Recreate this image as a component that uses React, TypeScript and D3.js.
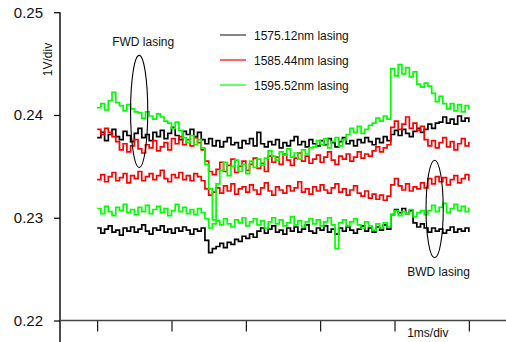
import React, { useEffect, useRef } from 'react';
import * as d3 from 'd3';

// scope readings, one sample every 0.05 ms (5 divisions)
const sampleStep = 0.05;
const xTicks = [0, 1, 2, 3, 4, 5];
const yTicks = [0.22, 0.23, 0.24, 0.25];

const fwd1575 = [
  0.2378, 0.2383, 0.2375, 0.2381, 0.2386, 0.2379, 0.2376, 0.2384, 0.2380, 0.2374,
  0.2382, 0.2387, 0.2378, 0.2381, 0.2375, 0.2383, 0.2379, 0.2385, 0.2377, 0.2382,
  0.2388, 0.2380, 0.2376, 0.2384, 0.2381, 0.2386, 0.2379, 0.2383, 0.2376, 0.2372,
  0.2377, 0.2370, 0.2375, 0.2369, 0.2374, 0.2378, 0.2371, 0.2373, 0.2368, 0.2375,
  0.2372, 0.2377, 0.2370, 0.2383, 0.2372, 0.2369, 0.2374, 0.2371, 0.2376, 0.2368,
  0.2373, 0.2370, 0.2375, 0.2379, 0.2371, 0.2374, 0.2369, 0.2376, 0.2372, 0.2370,
  0.2375, 0.2371, 0.2377, 0.2373, 0.2369, 0.2374, 0.2378, 0.2372, 0.2375, 0.2370,
  0.2376, 0.2373, 0.2378, 0.2374, 0.2371, 0.2377, 0.2373, 0.2379, 0.2375, 0.2381,
  0.2385, 0.2380, 0.2386, 0.2382, 0.2379, 0.2384, 0.2387, 0.2383, 0.2386, 0.2391,
  0.2387, 0.2392, 0.2393, 0.2398, 0.2392, 0.2396, 0.2391, 0.2399, 0.2394, 0.2397,
  0.2393,
];
const bwd1575 = [
  0.2290, 0.2285, 0.2289, 0.2292, 0.2286, 0.2288, 0.2283, 0.2290, 0.2287, 0.2291,
  0.2286, 0.2289, 0.2293, 0.2287, 0.2284, 0.2290, 0.2288, 0.2292, 0.2286, 0.2289,
  0.2285, 0.2290, 0.2287, 0.2291, 0.2288, 0.2284, 0.2289, 0.2287, 0.2290, 0.2278,
  0.2266, 0.2270, 0.2272, 0.2275, 0.2271, 0.2276, 0.2274, 0.2279, 0.2277, 0.2282,
  0.2280, 0.2284, 0.2281, 0.2287, 0.2290, 0.2285, 0.2289, 0.2292, 0.2286, 0.2288,
  0.2284, 0.2290, 0.2287, 0.2291, 0.2286, 0.2289, 0.2293, 0.2287, 0.2285, 0.2290,
  0.2288, 0.2292, 0.2286, 0.2289, 0.2284, 0.2290, 0.2287, 0.2291, 0.2288, 0.2285,
  0.2289, 0.2292, 0.2287, 0.2290, 0.2286, 0.2291, 0.2288, 0.2293, 0.2289, 0.2303,
  0.2308, 0.2305, 0.2309, 0.2304, 0.2307, 0.2295, 0.2291, 0.2294, 0.2290, 0.2286,
  0.2290, 0.2287, 0.2289, 0.2285, 0.2288, 0.2291, 0.2286, 0.2289, 0.2287, 0.2290,
  0.2286,
];
const fwd1585 = [
  0.2386, 0.2381, 0.2387, 0.2383, 0.2379, 0.2374, 0.2366, 0.2372, 0.2364, 0.2370,
  0.2376, 0.2367, 0.2363, 0.2371, 0.2368, 0.2375, 0.2365, 0.2369, 0.2373, 0.2366,
  0.2377, 0.2372, 0.2379, 0.2371, 0.2376, 0.2370, 0.2378, 0.2373, 0.2366, 0.2355,
  0.2345, 0.2342, 0.2347, 0.2354, 0.2345, 0.2351, 0.2357, 0.2344, 0.2350, 0.2355,
  0.2346, 0.2352, 0.2358, 0.2348, 0.2353, 0.2345, 0.2360, 0.2354, 0.2359, 0.2352,
  0.2362, 0.2356, 0.2351, 0.2358, 0.2363, 0.2355, 0.2360, 0.2353, 0.2357, 0.2361,
  0.2354, 0.2359, 0.2364, 0.2356, 0.2352, 0.2360, 0.2357, 0.2362, 0.2355, 0.2359,
  0.2364, 0.2358, 0.2362, 0.2360, 0.2365, 0.2369, 0.2364, 0.2368, 0.2371, 0.2388,
  0.2394, 0.2386, 0.2391, 0.2398, 0.2387, 0.2392, 0.2385, 0.2389, 0.2376, 0.2370,
  0.2375, 0.2368, 0.2373, 0.2378, 0.2369, 0.2374, 0.2366, 0.2372, 0.2377, 0.2370,
  0.2374,
];
const bwd1585 = [
  0.2337, 0.2342, 0.2335, 0.2340, 0.2344, 0.2336, 0.2339, 0.2343, 0.2334, 0.2341,
  0.2338, 0.2345, 0.2336, 0.2340, 0.2343, 0.2337, 0.2341, 0.2346, 0.2338, 0.2335,
  0.2342, 0.2339, 0.2344, 0.2337, 0.2341, 0.2336, 0.2343, 0.2340, 0.2336, 0.2328,
  0.2322, 0.2325, 0.2329, 0.2324, 0.2331, 0.2326, 0.2333, 0.2323, 0.2328, 0.2330,
  0.2325, 0.2332, 0.2327, 0.2323, 0.2329, 0.2334, 0.2326, 0.2322, 0.2330, 0.2327,
  0.2324, 0.2331, 0.2326, 0.2329, 0.2335, 0.2325, 0.2328, 0.2323, 0.2330, 0.2326,
  0.2332, 0.2327, 0.2324, 0.2329, 0.2333, 0.2325, 0.2328, 0.2322, 0.2327, 0.2331,
  0.2324, 0.2321, 0.2326, 0.2319, 0.2323, 0.2318, 0.2322, 0.2317, 0.2321, 0.2332,
  0.2338, 0.2331, 0.2327, 0.2333, 0.2326, 0.2330, 0.2328, 0.2334, 0.2329, 0.2338,
  0.2333, 0.2340, 0.2335, 0.2339, 0.2332, 0.2337, 0.2341, 0.2334, 0.2338, 0.2342,
  0.2336,
];
const fwd1595 = [
  0.2407, 0.2411, 0.2405, 0.2414, 0.2422, 0.2412, 0.2409, 0.2404, 0.2410, 0.2406,
  0.2403, 0.2402, 0.2397, 0.2403, 0.2399, 0.2396, 0.2401, 0.2398, 0.2394, 0.2392,
  0.2387, 0.2393, 0.2385, 0.2378, 0.2373, 0.2380, 0.2371, 0.2376, 0.2368, 0.2352,
  0.2328, 0.2298, 0.2333, 0.2346, 0.2354, 0.2341, 0.2350, 0.2356, 0.2345, 0.2352,
  0.2343, 0.2355, 0.2349, 0.2357, 0.2351, 0.2358, 0.2365, 0.2360, 0.2356, 0.2364,
  0.2361, 0.2367, 0.2359, 0.2363, 0.2357, 0.2366, 0.2362, 0.2368, 0.2369, 0.2375,
  0.2371, 0.2377, 0.2368, 0.2374, 0.2378, 0.2370, 0.2376, 0.2381, 0.2387, 0.2383,
  0.2389, 0.2382, 0.2386, 0.2390, 0.2392, 0.2397, 0.2394, 0.2399, 0.2396, 0.2445,
  0.2438, 0.2449, 0.2440, 0.2446, 0.2437, 0.2442, 0.2430, 0.2427, 0.2431, 0.2428,
  0.2421, 0.2413, 0.2418, 0.2411, 0.2406, 0.2411, 0.2404, 0.2410, 0.2403, 0.2409,
  0.2405,
];
const bwd1595 = [
  0.2309, 0.2304, 0.2311, 0.2306, 0.2302, 0.2310, 0.2307, 0.2313, 0.2305, 0.2308,
  0.2303, 0.2310, 0.2306, 0.2312, 0.2304, 0.2308, 0.2311, 0.2305, 0.2309, 0.2302,
  0.2307, 0.2313, 0.2306, 0.2310, 0.2304, 0.2308, 0.2303, 0.2309, 0.2305, 0.2299,
  0.2290, 0.2294, 0.2297, 0.2293, 0.2299, 0.2294, 0.2291, 0.2298, 0.2295, 0.2300,
  0.2292, 0.2296, 0.2299, 0.2293, 0.2297, 0.2290, 0.2296, 0.2300, 0.2294, 0.2298,
  0.2292, 0.2295, 0.2301, 0.2293, 0.2297, 0.2291, 0.2296, 0.2299, 0.2294, 0.2298,
  0.2292, 0.2296, 0.2300, 0.2293, 0.2270, 0.2295, 0.2298, 0.2292, 0.2296, 0.2299,
  0.2293, 0.2290, 0.2296, 0.2292, 0.2288, 0.2294, 0.2290, 0.2295, 0.2291, 0.2303,
  0.2307, 0.2302, 0.2306, 0.2304, 0.2308, 0.2301, 0.2305, 0.2307, 0.2303, 0.2307,
  0.2312, 0.2306, 0.2310, 0.2314, 0.2305, 0.2309, 0.2313, 0.2307, 0.2311, 0.2306,
  0.2310,
];

const seriesNames = ['1575.12nm lasing', '1585.44nm lasing', '1595.52nm lasing'];
const seriesColors = ['#000000', '#ff0000', '#00ff00'];
const fwdSeries = [fwd1575, fwd1585, fwd1595];
const bwdSeries = [bwd1575, bwd1585, bwd1595];

// annotation ellipses, in data units (ms, V)
const notes = [
  { label: 'FWD lasing', x: 0.565, yTop: 0.2458, yBottom: 0.2349, labelSide: 'top' },
  { label: 'BWD lasing', x: 4.54, yTop: 0.2356, yBottom: 0.2261, labelSide: 'bottom' },
];

function ScopeChart() {
  const ref = useRef<SVGSVGElement>(null);

  useEffect(() => {
    const width = 506, height = 342;
    const svg = d3.select(ref.current);
    svg.selectAll('*').remove();

    const x = d3.scaleLinear().domain([-0.5, 5.5]).range([60, 506]);
    const y = d3.scaleLinear().domain([0.22, 0.25]).range([320.5, 12.2]);

    const font = "'Liberation Sans', Arial, sans-serif";

    // y axis
    const yAxis = svg.append('g')
      .attr('transform', 'translate(60,0)')
      .call(d3.axisLeft(y).tickValues(yTicks).tickSize(6).tickPadding(11).tickFormat(d3.format('.2f')));
    yAxis.select('.domain').remove();
    yAxis.selectAll('line').attr('stroke', '#000').attr('stroke-width', 1.2);
    yAxis.selectAll('text')
      .attr('font-family', font)
      .attr('font-size', 15)
      .attr('fill', '#111');
    svg.append('line')
      .attr('x1', 60).attr('x2', 60)
      .attr('y1', y(0.25)).attr('y2', height)
      .attr('stroke', '#000').attr('stroke-width', 1.4);

    // x axis
    const xAxis = svg.append('g')
      .attr('transform', `translate(0,${y(0.22)})`)
      .call(d3.axisBottom(x).tickValues(xTicks).tickSize(11).tickFormat(() => ''));
    xAxis.select('.domain').remove();
    xAxis.selectAll('line').attr('stroke', '#000').attr('stroke-width', 1.1);
    svg.append('line')
      .attr('x1', 60).attr('x2', width)
      .attr('y1', y(0.22)).attr('y2', y(0.22))
      .attr('stroke', '#444').attr('stroke-width', 1.5);

    svg.append('text')
      .attr('transform', `translate(52,${59.5}) rotate(-90)`)
      .attr('text-anchor', 'middle')
      .attr('font-family', font).attr('font-size', 12).attr('fill', '#111')
      .text('1V/div');
    svg.append('text')
      .attr('x', x(4.17)).attr('y', 337)
      .attr('font-family', font).attr('font-size', 12).attr('fill', '#111')
      .text('1ms/div');

    // traces
    const line = d3.line<number>()
      .x((d, i) => x(i * sampleStep))
      .y(d => y(d))
      .curve(d3.curveStepAfter);

    const traceG = svg.append('g').attr('fill', 'none').attr('stroke-width', 1.7);
    seriesNames.forEach((name, k) => {
      [fwdSeries[k], bwdSeries[k]].forEach(values => {
        traceG.append('path')
          .attr('d', line(values))
          .attr('stroke', seriesColors[k]);
      });
    });

    // annotations
    notes.forEach(n => {
      const cy = (y(n.yTop) + y(n.yBottom)) / 2;
      const ry = (y(n.yBottom) - y(n.yTop)) / 2;
      svg.append('ellipse')
        .attr('cx', x(n.x)).attr('cy', cy)
        .attr('rx', 8.6).attr('ry', ry)
        .attr('fill', 'none').attr('stroke', '#000').attr('stroke-width', 1.1);
      svg.append('text')
        .attr('x', x(n.x) + 4)
        .attr('y', n.labelSide === 'top' ? y(n.yTop) - 9 : y(n.yBottom) + 18)
        .attr('text-anchor', 'middle')
        .attr('font-family', font).attr('font-size', 12).attr('fill', '#111')
        .text(n.label);
    });

    // legend
    const legend = svg.append('g').attr('transform', 'translate(220,35)');
    seriesNames.forEach((name, k) => {
      const row = legend.append('g').attr('transform', `translate(0,${k * 25})`);
      row.append('line')
        .attr('x1', 0).attr('x2', 26)
        .attr('stroke', k === 0 ? '#333' : seriesColors[k])
        .attr('stroke-width', 1.2);
      row.append('text')
        .attr('x', 34).attr('y', 5)
        .attr('font-family', font).attr('font-size', 12).attr('fill', '#111')
        .text(name);
    });
  }, []);

  return (
    <svg ref={ref} width={506} height={342}
      style={{ position: 'absolute', left: 0, top: 0, background: '#fff' }} />
  );
}

export default function App() {
  return <ScopeChart />;
}
